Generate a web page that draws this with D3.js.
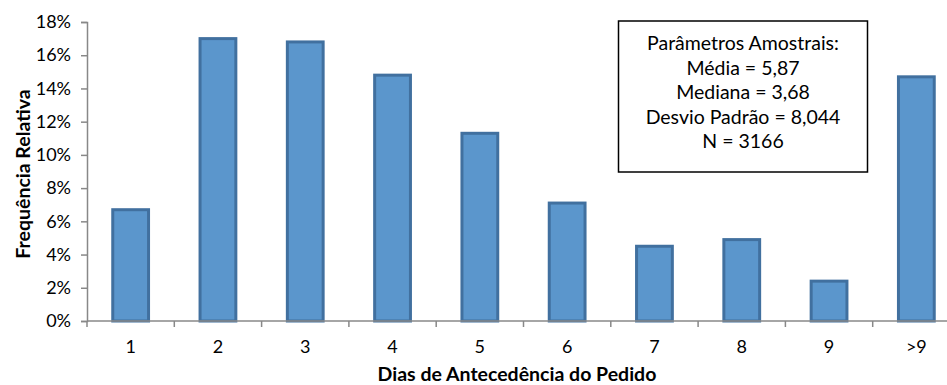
<!DOCTYPE html>
<html>
<head>
<meta charset="utf-8">
<script src="https://cdn.jsdelivr.net/npm/d3@7"></script>
<style>
  body { margin: 0; background: #fff; }
  text { font-family: Lato, "Open Sans", sans-serif; fill: #000; }
</style>
</head>
<body>
<div id="chart"></div>
<script>
const categories = ["1", "2", "3", "4", "5", "6", "7", "8", "9", ">9"];
const frequencies = [6.7, 17.0, 16.8, 14.8, 11.3, 7.1, 4.5, 4.9, 2.4, 14.7];
const yTicks = [0, 2, 4, 6, 8, 10, 12, 14, 16, 18];
const statsLines = [
    "Parâmetros Amostrais:",
    "Média = 5,87",
    "Mediana = 3,68",
    "Desvio Padrão = 8,044",
    "N = 3166"
];

const width = 947, height = 385;
const plotLeft = 87, plotRight = 960, plotTop = 22, plotBottom = 321;

const svg = d3.select("#chart")
    .append("svg")
    .attr("width", width)
    .attr("height", height);

const x = d3.scaleBand()
    .domain(categories)
    .range([plotLeft, plotRight])
    .paddingInner(0.59)
    .paddingOuter(0.295);

const y = d3.scaleLinear()
    .domain([0, 18])
    .range([plotBottom, plotTop]);

// bars
svg.selectAll("rect.bar")
    .data(frequencies)
    .enter()
    .append("rect")
    .attr("class", "bar")
    .attr("x", (d, i) => x(categories[i]))
    .attr("y", d => y(d))
    .attr("width", x.bandwidth())
    .attr("height", d => plotBottom - y(d))
    .attr("fill", "#5b96cc")
    .attr("stroke", "#41709f")
    .attr("stroke-width", 3);

// y axis
const yAxis = svg.append("g")
    .attr("transform", `translate(${plotLeft},0)`)
    .call(d3.axisLeft(y).tickValues(yTicks).tickSize(6).tickPadding(10).tickFormat(d => d + "%"));

// x axis, ticks between categories
const xAxis = svg.append("g")
    .attr("transform", `translate(0,${plotBottom})`);
xAxis.append("line")
    .attr("x1", plotLeft).attr("x2", plotRight)
    .attr("stroke", "#888").attr("stroke-width", 1.5);
const step = x.step();
xAxis.selectAll("line.tick")
    .data(d3.range(categories.length + 1))
    .enter()
    .append("line")
    .attr("class", "tick")
    .attr("x1", i => plotLeft + i * step)
    .attr("x2", i => plotLeft + i * step)
    .attr("y1", 0).attr("y2", 6)
    .attr("stroke", "#888").attr("stroke-width", 1.5);
xAxis.selectAll("text")
    .data(categories)
    .enter()
    .append("text")
    .attr("x", d => x(d) + x.bandwidth() / 2)
    .attr("y", 32)
    .attr("text-anchor", "middle")
    .style("font-size", "18px")
    .text(d => d);

yAxis.select(".domain").attr("stroke", "#888").attr("stroke-width", 1.5);
yAxis.selectAll(".tick line").attr("stroke", "#888").attr("stroke-width", 1.5);
yAxis.selectAll(".tick text").style("font-size", "18px").attr("fill", "#000");

// axis titles
svg.append("text")
    .attr("x", 517)
    .attr("y", 381)
    .attr("text-anchor", "middle")
    .style("font-size", "19.5px")
    .style("font-weight", "bold")
    .text("Dias de Antecedência do Pedido");

svg.append("text")
    .attr("transform", "translate(30,174) rotate(-90)")
    .attr("text-anchor", "middle")
    .style("font-size", "19.5px")
    .style("font-weight", "bold")
    .text("Frequência Relativa");

// stats box
svg.append("rect")
    .attr("x", 618.5).attr("y", 21)
    .attr("width", 249).attr("height", 151)
    .attr("fill", "#fff")
    .attr("stroke", "#000")
    .attr("stroke-width", 1.5);

svg.selectAll("text.stats")
    .data(statsLines)
    .enter()
    .append("text")
    .attr("class", "stats")
    .attr("x", 743)
    .attr("y", (d, i) => 50 + i * 24.5)
    .attr("text-anchor", "middle")
    .style("font-size", "19.5px")
    .text(d => d);
</script>
</body>
</html>
